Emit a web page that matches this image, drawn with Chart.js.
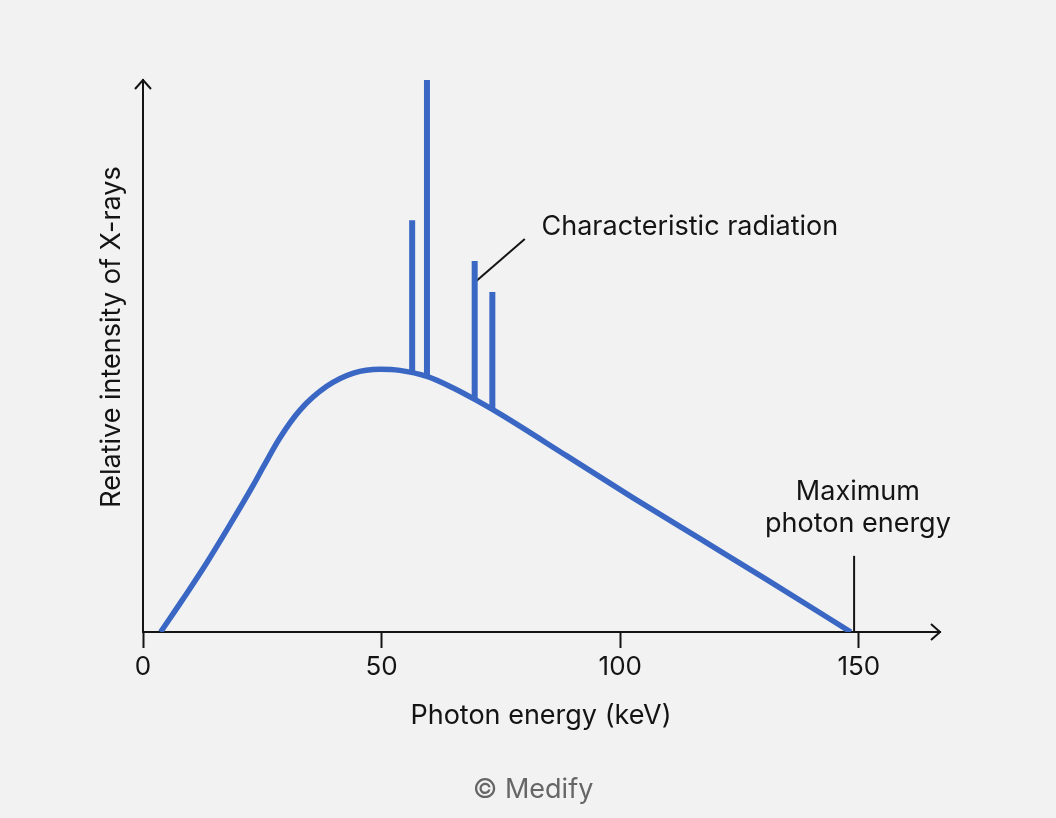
<!DOCTYPE html>
<html>
<head>
<meta charset="utf-8">
<script src="https://cdn.jsdelivr.net/npm/chart.js@4.4.1/dist/chart.umd.min.js"></script>
<style>
  html, body { margin: 0; padding: 0; background: #f2f2f2; }
  #wrap { width: 1056px; height: 818px; }
</style>
</head>
<body>
<div id="wrap"><canvas id="spectrum"></canvas></div>
<script>
// continuous (bremsstrahlung) spectrum
const energy = [3.7, 8.4, 13.4, 18.2, 23.1, 25.2, 28.7, 32.9, 38.5, 44.1, 49.7, 53.8, 59.5, 65, 70, 74.8, 88.8, 102.7, 116.7, 130.7, 148.3];
const intensity = [0, 6.0, 12.6, 19.4, 26.6, 29.9, 35.2, 40.2, 44.5, 46.9, 47.6, 47.4, 46.3, 44.2, 41.9, 39.5, 31.9, 24.3, 16.9, 9.5, 0];

// characteristic lines
const lineEnergy = [56.4, 59.5, 69.5, 73.2];
const lineBase = [46.9, 46.3, 42.1, 40.3];
const lineTop = [74.6, 100, 67.2, 61.6];

const xTicks = [0, 50, 100, 150];
const maxEnergy = 149;

const blue = '#3a67c4';
const ink = '#141414';
const font = 'Inter';

const datasets = [{
  data: energy.map((e, i) => ({ x: e, y: intensity[i] })),
  borderColor: blue,
  borderWidth: 5.5,
  pointRadius: 0,
  cubicInterpolationMode: 'monotone'
}];

lineEnergy.forEach((e, i) => {
  datasets.push({
    data: [{ x: e, y: lineBase[i] }, { x: e, y: lineTop[i] }],
    borderColor: blue,
    borderWidth: 6,
    pointRadius: 0
  });
});

// pointer to "Characteristic radiation"
datasets.push({
  data: [{ x: 69.6, y: 63.4 }, { x: 80.0, y: 71.2 }],
  borderColor: ink,
  borderWidth: 2,
  pointRadius: 0
});

// marker for maximum photon energy
datasets.push({
  data: [{ x: maxEnergy, y: 0 }, { x: maxEnergy, y: 13.8 }],
  borderColor: ink,
  borderWidth: 2,
  pointRadius: 0
});

const extras = {
  id: 'extras',
  beforeDraw(chart) {
    const c = chart.ctx;
    c.save();
    c.fillStyle = '#f2f2f2';
    c.fillRect(0, 0, chart.width, chart.height);
    c.restore();
  },
  afterDraw(chart) {
    const c = chart.ctx;
    const a = chart.chartArea;
    const x = chart.scales.x, y = chart.scales.y;
    c.save();
    // arrow heads
    c.strokeStyle = ink;
    c.lineWidth = 2;
    c.beginPath();
    c.moveTo(a.right - 9, a.bottom - 8);
    c.lineTo(a.right, a.bottom);
    c.lineTo(a.right - 9, a.bottom + 8);
    c.moveTo(a.left - 8, a.top + 9);
    c.lineTo(a.left, a.top);
    c.lineTo(a.left + 8, a.top + 9);
    c.stroke();

    c.fillStyle = ink;
    c.font = '27px ' + font;
    c.textBaseline = 'alphabetic';
    c.textAlign = 'left';
    c.fillText('Characteristic radiation', x.getPixelForValue(83.5), y.getPixelForValue(71.9));

    c.textAlign = 'center';
    const mx = x.getPixelForValue(149.8);
    c.fillText('Maximum', mx, y.getPixelForValue(23.9));
    c.fillText('photon energy', mx, y.getPixelForValue(18.1));

    c.fillText('Photon energy (keV)', 541, 724);

    c.fillStyle = '#666666';
    c.fillText('\u00a9 Medify', 533, 798);

    c.fillStyle = ink;
    c.translate(112, 337);
    c.rotate(-Math.PI / 2);
    c.textBaseline = 'middle';
    c.fillText('Relative intensity of X-rays', 0, 0);
    c.restore();
  }
};

new Chart(document.getElementById('spectrum'), {
  type: 'scatter',
  data: { datasets },
  options: {
    responsive: true,
    maintainAspectRatio: false,
    animation: false,
    showLine: true,
    layout: { padding: { top: 80, right: 116, left: 0, bottom: 0 } },
    plugins: { legend: { display: false }, tooltip: { enabled: false } },
    scales: {
      x: {
        type: 'linear',
        min: 0,
        max: 167,
        afterBuildTicks(s) { s.ticks = xTicks.map(v => ({ value: v })); },
        afterFit(s) { s.height = 186; },
        border: { display: true, color: ink, width: 2 },
        grid: { drawOnChartArea: false, drawTicks: true, tickLength: 16, tickWidth: 2, tickColor: ink },
        ticks: { color: ink, font: { family: font, size: 26 }, padding: 4, maxRotation: 0 }
      },
      y: {
        type: 'linear',
        min: 0,
        max: 100,
        afterFit(s) { s.width = 143; },
        border: { display: true, color: ink, width: 2 },
        grid: { drawOnChartArea: false, drawTicks: false },
        ticks: { display: false }
      }
    }
  },
  plugins: [extras]
});
</script>
</body>
</html>
